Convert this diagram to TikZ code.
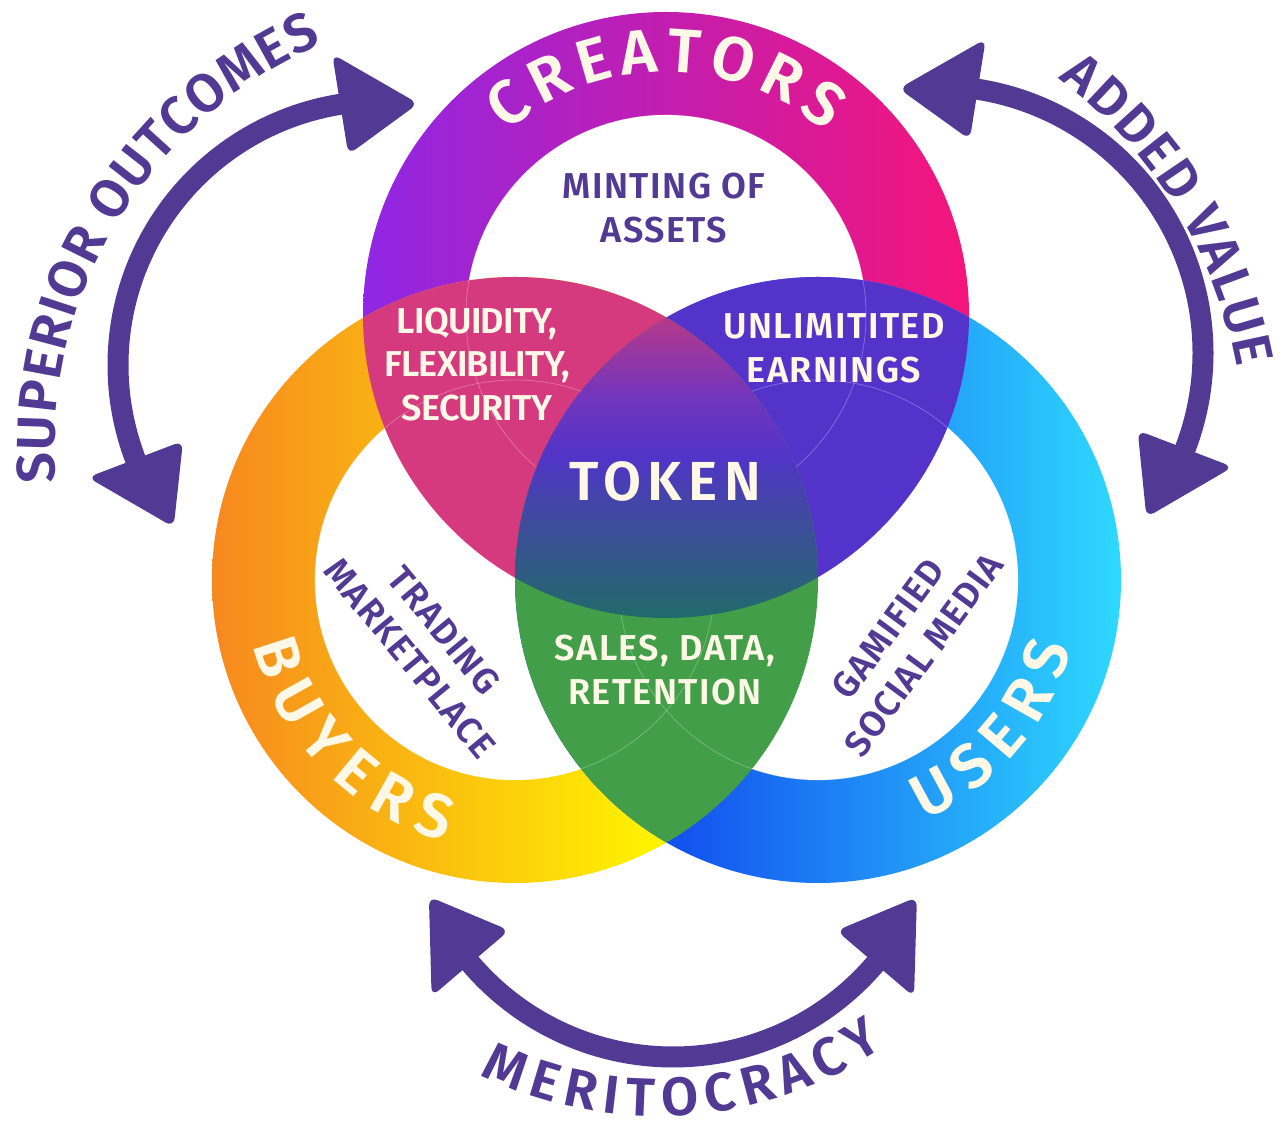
\documentclass[tikz,border=0pt]{standalone}
\usepackage{fontspec}
\usetikzlibrary{decorations.text,calc}
\newfontfamily\fsbRing{Fira Sans SemiBold}
\newfontfamily\fsbTok{Fira Sans SemiBold}[LetterSpace=12]
\newfontfamily\fsbLab{Fira Sans SemiBold}[LetterSpace=4]
\newfontfamily\fsbLabT{Fira Sans SemiBold}[LetterSpace=-2]

\definecolor{arrowc}{HTML}{523A94}
\definecolor{cream}{HTML}{FFF8E7}
\definecolor{creL}{HTML}{8F27E4}
\definecolor{creR}{HTML}{F5157A}
\definecolor{buyL}{HTML}{F6881F}
\definecolor{buyR}{HTML}{FFF200}
\definecolor{useL}{HTML}{1452EE}
\definecolor{useR}{HTML}{2ED9FF}
\definecolor{lensCB}{HTML}{D43A7D}
\definecolor{lensCU}{HTML}{5433CB}
\definecolor{lensBU}{HTML}{429E48}
\definecolor{toktop}{HTML}{B5388A}
\definecolor{tokA}{HTML}{7335BD}
\definecolor{tokB}{HTML}{5134C8}
\definecolor{tokC}{HTML}{3F4A9F}
\definecolor{tokbot}{HTML}{216A6A}

\pgfdeclareverticalshading{tokenshade}{100bp}{color(0bp)=(tokbot); color(25bp)=(tokbot); color(42bp)=(tokC); color(52bp)=(tokB); color(62bp)=(tokA); color(75bp)=(toktop); color(100bp)=(toktop)}

\newcommand\ringtxt{\fsbRing\fontsize{62}{62}\selectfont\color{cream}}
\newcommand\arrtxt{\fsbRing\fontsize{54}{54}\selectfont\color{arrowc}}
\newcommand\labtxt{\fsbLab\fontsize{36}{44}\selectfont}
\newcommand\labtxtT{\fsbLabT\fontsize{36}{43.5}\selectfont}
\newcommand\toktxt{\fsbTok\fontsize{55}{55}\selectfont}

\tikzset{
  shaft/.style={draw=arrowc, line width=21},
  head/.style={fill=arrowc, rounded corners=9},
  lbl/.style={font=\labtxt, align=center, inner sep=0pt},
  faint/.style={draw=white, draw opacity=0.3, line width=0.7},
  curved/.style={decorate, decoration={text along path, text align=fit to path, text={#1}}}
}

\begin{document}
\begin{tikzpicture}[x=1pt,y=1pt]
\useasboundingbox (0,0) rectangle (1287,1129);
\fill[white] (0,0) rectangle (1287,1129);

\coordinate (C) at (666,814);
\coordinate (B) at (515,549);
\coordinate (U) at (818,549);

% rings (outer disc shaded, inner disc white; overlaps repainted by lenses)
\begin{scope}
  \clip (C) circle[radius=303];
  \shade[left color=creL, right color=creR] (363,505) rectangle (969,1123);
\end{scope}
\fill[white] (C) circle[radius=200];
\begin{scope}
  \clip (B) circle[radius=303];
  \shade[left color=buyL, right color=buyR] (212,240) rectangle (650,858);
  \fill[buyR] (649,240) rectangle (820,858);
\end{scope}
\fill[white] (B) circle[radius=200];
\begin{scope}
  \clip (U) circle[radius=303];
  \fill[useL] (512,240) rectangle (681,858);
  \shade[left color=useL, right color=useR] (680,240) rectangle (1122,858);
\end{scope}
\fill[white] (U) circle[radius=200];

% pairwise lenses
\begin{scope}
  \clip (C) circle[radius=303];
  \fill[lensCB] (B) circle[radius=303];
  \fill[lensCU] (U) circle[radius=303];
\end{scope}
\begin{scope}
  \clip (B) circle[radius=303];
  \fill[lensBU] (U) circle[radius=303];
\end{scope}

% faint inner circles
\begin{scope}
  \clip (C) circle[radius=303] (B) circle[radius=303] (U) circle[radius=303];
  \draw[faint] (C) circle[radius=200];
  \draw[faint] (B) circle[radius=200];
  \draw[faint] (U) circle[radius=200];
\end{scope}

% triple intersection
\begin{scope}
  \clip (C) circle[radius=303];
  \clip (B) circle[radius=303];
  \clip (U) circle[radius=303];
  \shade[shading=tokenshade] (515,511) rectangle (818,811);
\end{scope}

% ring texts
\path[curved={|\ringtxt|CREATORS}]
  (C) ++(131:243) arc[start angle=131, end angle=49, radius=243];
\path[curved={|\ringtxt|BUYERS}]
  (B) ++(194:270) arc[start angle=194, end angle=255, radius=270];
\path[curved={|\ringtxt|USERS}]
  (U) ++(-66:262.5) arc[start angle=-66, end angle=-15, radius=262.5];

% inner labels
\node[lbl, text=arrowc] (mint) at (664,921) {MINTING OF\\ASSETS};
\node[lbl, font=\labtxtT, text=cream] (liq) at (477,764.5) {LIQUIDITY,\\FLEXIBILITY,\\SECURITY};
\node[lbl, text=cream] (earn) at (834,781) {UNLIMITITED\\EARNINGS};
\node[font=\toktxt, text=cream, inner sep=0pt] (token) at (665,648) {TOKEN};
\node[lbl, text=cream] (sales) at (665,458.5) {SALES, DATA,\\RETENTION};
\node[lbl, text=arrowc, rotate=-50.5] (trade) at (427,484.6) {TRADING\\MARKETPLACE};
\node[lbl, text=arrowc, rotate=53.6] (game) at (906,487.3) {GAMIFIED\\SOCIAL MEDIA};

% arrows
\coordinate (AL) at (382,764);
\coordinate (AR) at (936,776);
\coordinate (AB) at (673,338);

\draw[shaft] (AL) ++(96:264) arc[start angle=96, end angle=204, radius=264];
\fill[head] ($(AL)+(82.1:264)$) -- ($(AL)+(99.1:315)$) -- ($(AL)+(99.1:213)$) -- cycle;
\fill[head] ($(AL)+(217.9:264)$) -- ($(AL)+(200.9:315)$) -- ($(AL)+(200.9:213)$) -- cycle;

\draw[shaft] (AR) ++(84:267) arc[start angle=84, end angle=-24, radius=267];
\fill[head] ($(AR)+(98:267)$) -- ($(AR)+(81:318)$) -- ($(AR)+(81:216)$) -- cycle;
\fill[head] ($(AR)+(-38:267)$) -- ($(AR)+(-21:318)$) -- ($(AR)+(-21:216)$) -- cycle;

\draw[shaft] (AB) ++(217:266) arc[start angle=217, end angle=323, radius=266];
\fill[head] ($(AB)+(203.4:266)$) -- ($(AB)+(220.4:317)$) -- ($(AB)+(220.4:215)$) -- cycle;
\fill[head] ($(AB)+(336.5:266)$) -- ($(AB)+(319.5:317)$) -- ($(AB)+(319.5:215)$) -- cycle;

% arrow labels
\path[curved={|\arrtxt|SUPERIOR OUTCOMES}]
  (493.5,680.7) ++(184.5:439) arc[start angle=184.5, end angle=113, radius=439];
\path[curved={|\arrtxt|ADDED VALUE}]
  (777,677) ++(53:467.5) arc[start angle=53, end angle=10.4, radius=467.5];
\path[curved={|\arrtxt|MERITOCRACY}]
  (657.5,418) ++(244:405) arc[start angle=244, end angle=304, radius=405];
\end{tikzpicture}
\end{document}
